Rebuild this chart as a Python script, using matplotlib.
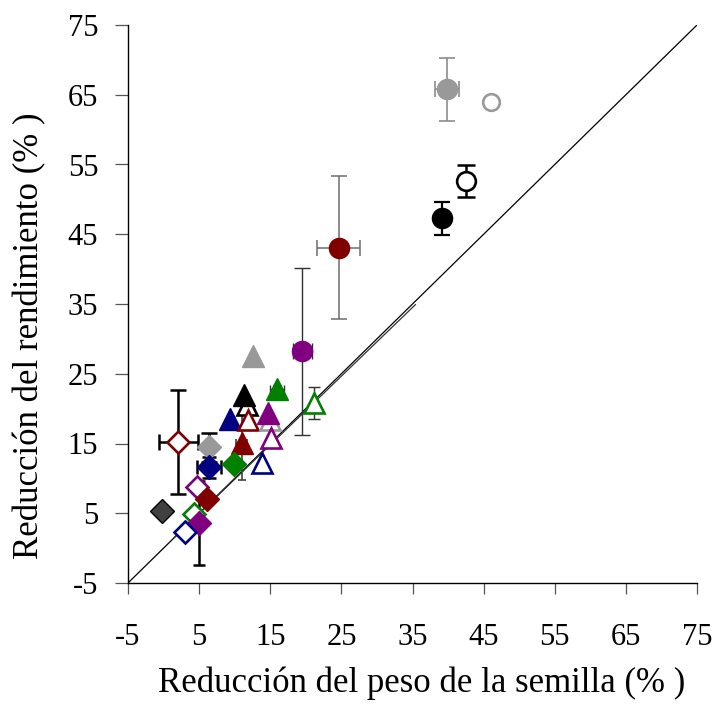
import matplotlib
matplotlib.use("Agg")
import matplotlib.pyplot as plt

plt.rcParams['font.family'] = ['Liberation Serif', 'DejaVu Serif']

# ---- data ----
x_vals = [39.8, 46.1, 42.5, 39.2, 24.6, 19.5, 21.2, 12.6, 11.7, 11.3, 16.0, 9.35,
          11.9, 15.0, 14.7, 15.05, 11.0, 13.9, 6.4, 2.1, 6.4, 9.95, 4.66, 6.05,
          -0.26, 4.33, 5.03, 3.0]
y_vals = [65.8, 63.9, 52.6, 47.3, 43.1, 28.2, 20.8, 27.5, 20.5, 21.9, 22.8, 18.5,
          18.4, 18.4, 19.4, 15.75, 15.1, 12.25, 14.45, 15.2, 11.6, 12.06, 8.8, 7.0,
          5.3, 4.85, 3.56, 2.27]
x_err = [1.7, 0.4, 0, 0, 3.0, 1.3, 0, 0, 0, 0, 1.0, 0,
         0, 0, 0, 0, 0.8, 0, 0, 2.8, 1.7, 0, 0, 0,
         0, 0, 0.5, 0]
y_err = [4.5, 0.5, 2.3, 2.35, 10.2, 12.0, 2.35, 0, 0, 0, 0.6, 0,
         0, 0, 0, 0, 5.3, 0, 2.1, 7.5, 1.5, 0, 0, 0,
         0, 0, 6.0, 0]

line_x = [-5, 75]
line_y = [-5, 75]
line2_x = [1.5, 35.4]
line2_y = [1.5, 34.9]

x_ticks = [-5, 5, 15, 25, 35, 45, 55, 65, 75]
y_ticks = [-5, 5, 15, 25, 35, 45, 55, 65, 75]
x_label = "Reducción del peso de la semilla (% )"
y_label = "Reducción del rendimiento (% )"

# ---- styles ----
GRAY = '#999999'
DR = '#800000'
NV = '#000080'
GR = '#008000'
PU = '#800080'
markers = ['o', 'o', 'o', 'o', 'o', 'o', '^', '^', '^', '^', '^', '^',
           '^', '^', '^', '^', '^', '^', 'D', 'D', 'D', 'D', 'D', 'D',
           'D', 'D', 'D', 'D']
colors = [GRAY, GRAY, 'black', 'black', DR, PU, GR, GRAY, 'black', 'black', GR, NV,
          DR, GRAY, PU, PU, DR, NV, GRAY, DR, NV, GR, PU, DR,
          '#404040', GR, PU, NV]
filled = [True, False, False, True, True, True, False, True, False, True, True, True,
          False, False, True, False, True, False, True, False, True, True, False, True,
          True, False, True, False]
ecolors = ['#8c8c8c', GRAY, 'black', 'black', '#6e6e6e', '#303030', '#303030', 'black', 'black',
           'black', '#303030', 'black', 'black', 'black', 'black', 'black', '#404040', 'black',
           'black', 'black', 'black', 'black', 'black', 'black', 'black', 'black', 'black', 'black']
elw = [1.2, 1.0, 1.8, 1.6, 1.1, 1.0, 1.0, 1, 1, 1, 1.0, 1,
       1, 1, 1, 1, 1.2, 1, 1.8, 1.8, 1.8, 1, 1, 1,
       1, 1, 1.8, 1]
caps = [6, 2, 6.5, 5.5, 6, 6, 4, 0, 0, 0, 3, 0,
        0, 0, 0, 0, 3, 0, 5.5, 5.5, 5, 0, 0, 0,
        0, 0, 4, 0]
msize = {'o': 14.5, '^': 16, 'D': 12}

fig = plt.figure(figsize=(7.15, 7.28), dpi=100)
ax = fig.add_axes([128 / 715, 1 - 583 / 728, 569 / 715, 558 / 728])

ax.plot(line_x, line_y, color='black', lw=0.9, zorder=1)
ax.plot(line2_x, line2_y, color='#333333', lw=0.9, zorder=1)

for i in range(len(x_vals)):
    if x_err[i] or y_err[i]:
        ax.errorbar(x_vals[i], y_vals[i],
                    xerr=x_err[i] if x_err[i] else None,
                    yerr=y_err[i] if y_err[i] else None,
                    fmt='none', ecolor=ecolors[i], elinewidth=elw[i],
                    capsize=caps[i], capthick=elw[i], zorder=2)

for i in range(len(x_vals)):
    m = markers[i]
    ms = msize[m]
    if i == 1:
        ms = 13
    if filled[i]:
        ec = 'black' if colors[i] == '#404040' else colors[i]
        ax.plot(x_vals[i], y_vals[i], marker=m, ms=ms, mfc=colors[i], mec=ec,
                mew=1.0, ls='none', zorder=3 + i * 0.01)
    else:
        ax.plot(x_vals[i], y_vals[i], marker=m, ms=ms - 1.0, mfc='white',
                mec=colors[i], mew=1.9, ls='none', zorder=3 + i * 0.01)

ax.set_xlim(-5, 75)
ax.set_ylim(-5, 75)
ax.set_xticks(x_ticks)
ax.set_yticks(y_ticks)
ax.set_xticklabels([str(t) for t in x_ticks])
ax.set_yticklabels([str(t) for t in y_ticks])
ax.spines['top'].set_visible(False)
ax.spines['right'].set_visible(False)
ax.spines['left'].set_linewidth(1.0)
ax.spines['bottom'].set_linewidth(1.0)
ax.tick_params(axis='y', direction='out', length=9.5, width=0.9, color='#555555',
               labelsize=22, pad=12)
ax.tick_params(axis='x', direction='out', length=8, width=0.9, color='#555555',
               labelsize=22, pad=21)

fig.text(422 / 715, 1 - 683 / 728, x_label, fontsize=25, ha='center', va='center')
fig.text(30 / 715, 1 - 336 / 728, y_label, fontsize=25, ha='center', va='center',
         rotation=90)

fig.savefig('out.png', dpi=100)
